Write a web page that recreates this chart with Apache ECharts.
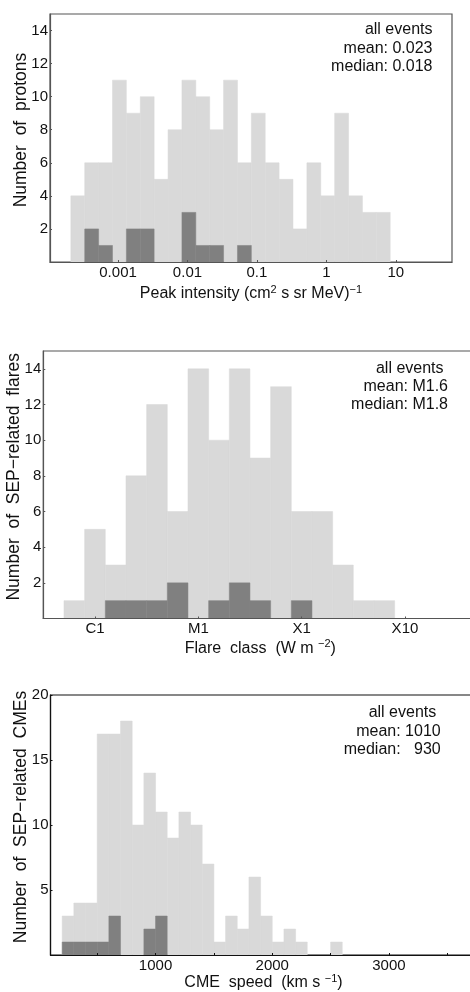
<!DOCTYPE html>
<html>
<head>
<meta charset="utf-8">
<title>SEP histograms</title>
<script src="https://cdn.jsdelivr.net/npm/echarts@6/dist/echarts.min.js"></script>
<style>
  html, body { margin: 0; padding: 0; background: #fff; }
  #chart { width: 470px; height: 992px; }
</style>
</head>
<body>
<div id="chart"></div>
<script>
// panel 1: peak proton intensity, log10 bins
var protonStart = -3.68, protonStep = 0.2;
var protonAll = [4, 6, 6, 11, 9, 10, 5, 8, 11, 10, 8, 11, 6, 9, 6, 5, 2, 6, 4, 9, 4, 3, 3];
var protonSub = [0, 2, 1, 0, 2, 2, 0, 0, 3, 1, 1, 0, 1, 0, 0, 0, 0, 0, 0, 0, 0, 0, 0];
var protonTicks = [-3, -2, -1, 0, 1];
var protonTickText = ['0.001', '0.01', '0.1', '1', '10'];
var protonStats = ['all events', 'mean: 0.023', 'median: 0.018'];

// panel 2: flare class, log10 (W m^-2) bins
var flareStart = -6.3, flareStep = 0.2;
var flareAll = [1, 5, 3, 8, 12, 6, 14, 10, 14, 9, 13, 6, 6, 3, 1, 1];
var flareSub = [0, 0, 1, 1, 1, 2, 0, 1, 2, 1, 0, 1, 0, 0, 0, 0];
var flareTicks = [-6, -5, -4, -3];
var flareTickText = ['C1', 'M1', 'X1', 'X10'];
var flareStats = ['all events ', 'mean: M1.6', 'median: M1.8'];

// panel 3: CME speed, 100 km/s bins
var cmeStart = 200, cmeStep = 100;
var cmeAll = [3, 4, 4, 17, 17, 18, 10, 14, 11, 9, 11, 10, 7, 1, 3, 2, 6, 3, 1, 2, 1, 0, 0, 1];
var cmeSub = [1, 1, 1, 1, 3, 0, 0, 2, 3, 0, 0, 0, 0, 0, 0, 0, 0, 0, 0, 0, 0, 0, 0, 0];
var cmeTicks = [500, 1000, 1500, 2000, 2500, 3000, 3500];
var cmeLabels = [1000, 2000, 3000];
var cmeStats = ['all events ', 'mean: 1010', 'median:   930'];

var LIGHT = '#d9d9d9', DARK = '#808080', INK = '#111';
var FONT = '"Liberation Sans", Arial, sans-serif';

function bins(start, step, counts) {
    var out = [];
    for (var i = 0; i < counts.length; i++) {
        if (counts[i] > 0) out.push([start + i * step, start + (i + 1) * step, counts[i]]);
    }
    return out;
}

function barRenderer(color) {
    return function (params, api) {
        var a = api.coord([api.value(0), api.value(2)]);
        var b = api.coord([api.value(1), 0]);
        return {
            type: 'rect',
            shape: { x: a[0], y: a[1], width: b[0] - a[0], height: b[1] - a[1] },
            style: { fill: color, stroke: color, lineWidth: 0.5 }
        };
    };
}

function histSeries(idx, data, color) {
    return {
        type: 'custom',
        xAxisIndex: idx,
        yAxisIndex: idx,
        renderItem: barRenderer(color),
        encode: { x: [0, 1], y: 2 },
        data: data,
        z: 1,
        silent: true
    };
}

var supRich = {
    sup: { fontSize: 11, fontFamily: FONT, color: INK, verticalAlign: 'top', padding: [0, 0, 9, 0] }
};

function xAxisCfg(idx, min, max, tickVals, labelVals, fmt, name, gap, lineColor) {
    return {
        type: 'value', gridIndex: idx, min: min, max: max, z: 5,
        axisLine: { show: true, onZero: false, lineStyle: { color: lineColor, width: 1.2 } },
        axisTick: { show: true, inside: true, length: 2, customValues: tickVals, lineStyle: { color: lineColor } },
        axisLabel: { customValues: labelVals, formatter: fmt, color: INK, fontSize: 15, fontFamily: FONT, margin: 3 },
        splitLine: { show: false },
        name: name, nameLocation: 'middle', nameGap: gap, nameMoveOverlap: false,
        nameTextStyle: { color: INK, fontSize: 16, fontFamily: FONT, rich: supRich }
    };
}

function yAxisCfg(idx, max, interval, name, lineColor) {
    return {
        type: 'value', gridIndex: idx, min: 0, max: max, interval: interval, z: 5,
        axisLine: { show: true, onZero: false, lineStyle: { color: lineColor, width: 1.2 } },
        axisTick: { show: true, inside: true, length: 2, lineStyle: { color: lineColor } },
        axisLabel: { showMinLabel: false, showMaxLabel: max % interval === 0, color: INK, fontSize: 15, fontFamily: FONT, margin: 2 },
        splitLine: { show: false },
        name: name, nameLocation: 'middle', nameGap: 20, nameMoveOverlap: false,
        // left padding nudges the rotated title upward, as in the original
        nameTextStyle: { color: INK, fontSize: 17.5, fontFamily: FONT, padding: [0, 0, 0, 16] }
    };
}

function statsText(lines, right, tops) {
    return lines.map(function (t, i) {
        return {
            type: 'text', x: right, y: tops[i], z: 10,
            style: { text: t, fill: INK, font: '16px ' + FONT, textAlign: 'right', textVerticalAlign: 'middle' }
        };
    });
}

function gridCfg(left, top, width, height, color) {
    return {
        left: left, top: top, width: width, height: height,
        outerBoundsMode: 'none', containLabel: false,
        show: true, borderColor: color, borderWidth: 1.2, backgroundColor: 'transparent'
    };
}

var chart = echarts.init(document.getElementById('chart'), null, { renderer: 'canvas' });

chart.setOption({
    animation: false,
    backgroundColor: '#fff',
    grid: [
        gridCfg(50, 14, 402, 248, '#555'),
        gridCfg(43.3, 351, 434, 267.5, '#555'),
        gridCfg(50.5, 695, 426, 260, '#111')
    ],
    xAxis: [
        xAxisCfg(0, -3.98, 1.81, protonTicks, protonTicks, function (v) {
            return protonTickText[protonTicks.indexOf(Math.round(v))];
        }, 'Peak intensity (cm{sup|2} s sr MeV){sup|\u22121}', 22, '#555'),
        xAxisCfg(1, -6.5, -2.3, flareTicks, flareTicks, function (v) {
            return flareTickText[flareTicks.indexOf(Math.round(v))];
        }, 'Flare  class  (W m {sup|\u22122})', 20, '#555'),
        xAxisCfg(2, 100, 3750, cmeTicks, cmeLabels, function (v) {
            return String(v);
        }, 'CME  speed  (km s {sup|\u22121})', 18, '#111')
    ],
    yAxis: [
        yAxisCfg(0, 15, 2, 'Number  of  protons', '#555'),
        yAxisCfg(1, 15, 2, 'Number  of  SEP\u2212related  flares', '#555'),
        yAxisCfg(2, 20, 5, 'Number  of  SEP\u2212related  CMEs', '#111')
    ],
    series: [
        histSeries(0, bins(protonStart, protonStep, protonAll), LIGHT),
        histSeries(0, bins(protonStart, protonStep, protonSub), DARK),
        histSeries(1, bins(flareStart, flareStep, flareAll), LIGHT),
        histSeries(1, bins(flareStart, flareStep, flareSub), DARK),
        histSeries(2, bins(cmeStart, cmeStep, cmeAll), LIGHT),
        histSeries(2, bins(cmeStart, cmeStep, cmeSub), DARK)
    ],
    graphic: [].concat(
        statsText(protonStats, 432.5, [29.3, 48.3, 66.7]),
        statsText(flareStats, 448, [368.3, 386.7, 404.3]),
        statsText(cmeStats, 440.7, [712.3, 731.7, 750])
    )
});
</script>
</body>
</html>
